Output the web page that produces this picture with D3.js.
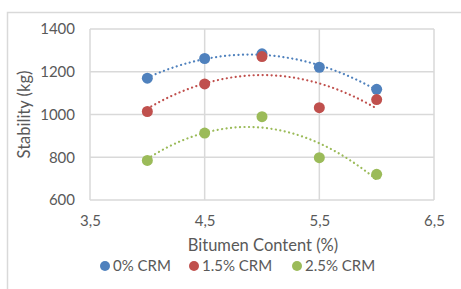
<!DOCTYPE html>
<html>
<head>
<meta charset="utf-8">
<script src="https://cdn.jsdelivr.net/npm/d3@7"></script>
<style>
  html, body { margin: 0; padding: 0; background: #fff; }
  svg { display: block; }
</style>
</head>
<body>
<svg id="chart" width="461" height="289"></svg>
<script>
(function () {
  'use strict';

  // Data
  const bitumen = [4, 4.5, 5, 5.5, 6];
  const crm0 = [1170, 1262, 1284, 1221, 1118];
  const crm15 = [1014, 1143, 1271, 1032, 1070];
  const crm25 = [785, 913, 990, 798, 720];
  const seriesNames = ['0% CRM', '1.5% CRM', '2.5% CRM'];
  const seriesColors = ['#4F81BD', '#C0504D', '#9BBB59'];
  const xTicks = [3.5, 4.5, 5.5, 6.5];
  const yTicks = [600, 800, 1000, 1200, 1400];

  const series = [crm0, crm15, crm25].map((vals, i) => ({
    name: seriesNames[i], color: seriesColors[i],
    pts: bitumen.map((x, j) => ({ x, y: vals[j] })),
  }));

  // least-squares quadratic (like the Excel poly trendline)
  function polyfit2(pts) {
    let s = [0, 0, 0, 0, 0], t = [0, 0, 0];
    pts.forEach((p) => {
      for (let k = 0; k < 5; k++) s[k] += Math.pow(p.x, k);
      for (let k = 0; k < 3; k++) t[k] += p.y * Math.pow(p.x, k);
    });
    const A = [[s[0], s[1], s[2], t[0]], [s[1], s[2], s[3], t[1]], [s[2], s[3], s[4], t[2]]];
    for (let i = 0; i < 3; i++) {
      for (let r = i + 1; r < 3; r++) {
        const f = A[r][i] / A[i][i];
        for (let c = i; c < 4; c++) A[r][c] -= f * A[i][c];
      }
    }
    const c = [0, 0, 0];
    for (let i = 2; i >= 0; i--) {
      let v = A[i][3];
      for (let k = i + 1; k < 3; k++) v -= A[i][k] * c[k];
      c[i] = v / A[i][i];
    }
    return (x) => c[0] + c[1] * x + c[2] * x * x;
  }

  const svg = d3.select('#chart');
  const font = 'Lato, "Open Sans", sans-serif';
  const textCol = '#595959';
  const gridCol = '#D9D9D9';

  // outer chart frame
  svg.append('rect').attr('x', 7.5).attr('y', 12.5).attr('width', 480).attr('height', 300)
    .attr('fill', 'none').attr('stroke', gridCol).attr('stroke-width', 1.5);

  const m = { left: 90, top: 29, right: 434, bottom: 200 };
  const x = d3.scaleLinear().domain([3.5, 6.5]).range([m.left, m.right]);
  const y = d3.scaleLinear().domain([600, 1400]).range([m.bottom, m.top]);

  // grid
  svg.append('g').selectAll('line').data(yTicks).join('line')
    .attr('x1', m.left).attr('x2', m.right)
    .attr('y1', (d) => y(d)).attr('y2', (d) => y(d))
    .attr('stroke', gridCol).attr('stroke-width', 1.5);
  svg.append('g').selectAll('line').data(xTicks).join('line')
    .attr('y1', m.top).attr('y2', m.bottom)
    .attr('x1', (d) => x(d)).attr('x2', (d) => x(d))
    .attr('stroke', gridCol).attr('stroke-width', 1.5);

  // axes (labels only)
  const yAxis = svg.append('g').attr('transform', `translate(${m.left - 10},0)`)
    .call(d3.axisLeft(y).tickValues(yTicks).tickSize(0).tickPadding(5).tickFormat(d3.format('d')));
  const xAxis = svg.append('g').attr('transform', `translate(0,${m.bottom + 10})`)
    .call(d3.axisBottom(x).tickValues(xTicks).tickSize(0).tickPadding(5)
      .tickFormat((d) => d3.format('.1f')(d).replace('.', ',')));
  [yAxis, xAxis].forEach((g) => {
    g.select('.domain').remove();
    g.selectAll('text').style('font-family', font).style('font-size', '15px').attr('fill', textCol);
  });

  // trendlines
  const line = d3.line().x((d) => x(d.x)).y((d) => y(d.y));
  series.forEach((s) => {
    const f = polyfit2(s.pts);
    const xs = d3.range(4, 6.0001, 0.02);
    svg.append('path').datum(xs.map((v) => ({ x: v, y: f(v) })))
      .attr('d', line).attr('fill', 'none')
      .attr('stroke', s.color).attr('stroke-width', 2.2)
      .attr('stroke-linecap', 'round').attr('stroke-dasharray', '0.1 4.4');
  });

  // markers
  series.forEach((s) => {
    svg.append('g').selectAll('circle').data(s.pts).join('circle')
      .attr('cx', (d) => x(d.x)).attr('cy', (d) => y(d.y)).attr('r', 5.5)
      .attr('fill', s.color);
  });

  // axis titles
  svg.append('text').attr('x', 263).attr('y', 251)
    .attr('text-anchor', 'middle').style('font-family', font).style('font-size', '16.5px')
    .attr('fill', textCol).text('Bitumen Content (%)');
  svg.append('text').attr('transform', `translate(30,${(m.top + m.bottom) / 2}) rotate(-90)`)
    .attr('text-anchor', 'middle').style('font-family', font).style('font-size', '16.5px')
    .attr('fill', textCol).text('Stability (kg)');

  // legend
  const legX = [105, 194, 297];
  const leg = svg.append('g');
  series.forEach((s, i) => {
    leg.append('circle').attr('cx', legX[i]).attr('cy', 266).attr('r', 5).attr('fill', s.color);
    leg.append('text').attr('x', legX[i] + 8).attr('y', 271)
      .style('font-family', font).style('font-size', '15px').attr('fill', textCol).text(s.name);
  });
})();
</script>
</body>
</html>
